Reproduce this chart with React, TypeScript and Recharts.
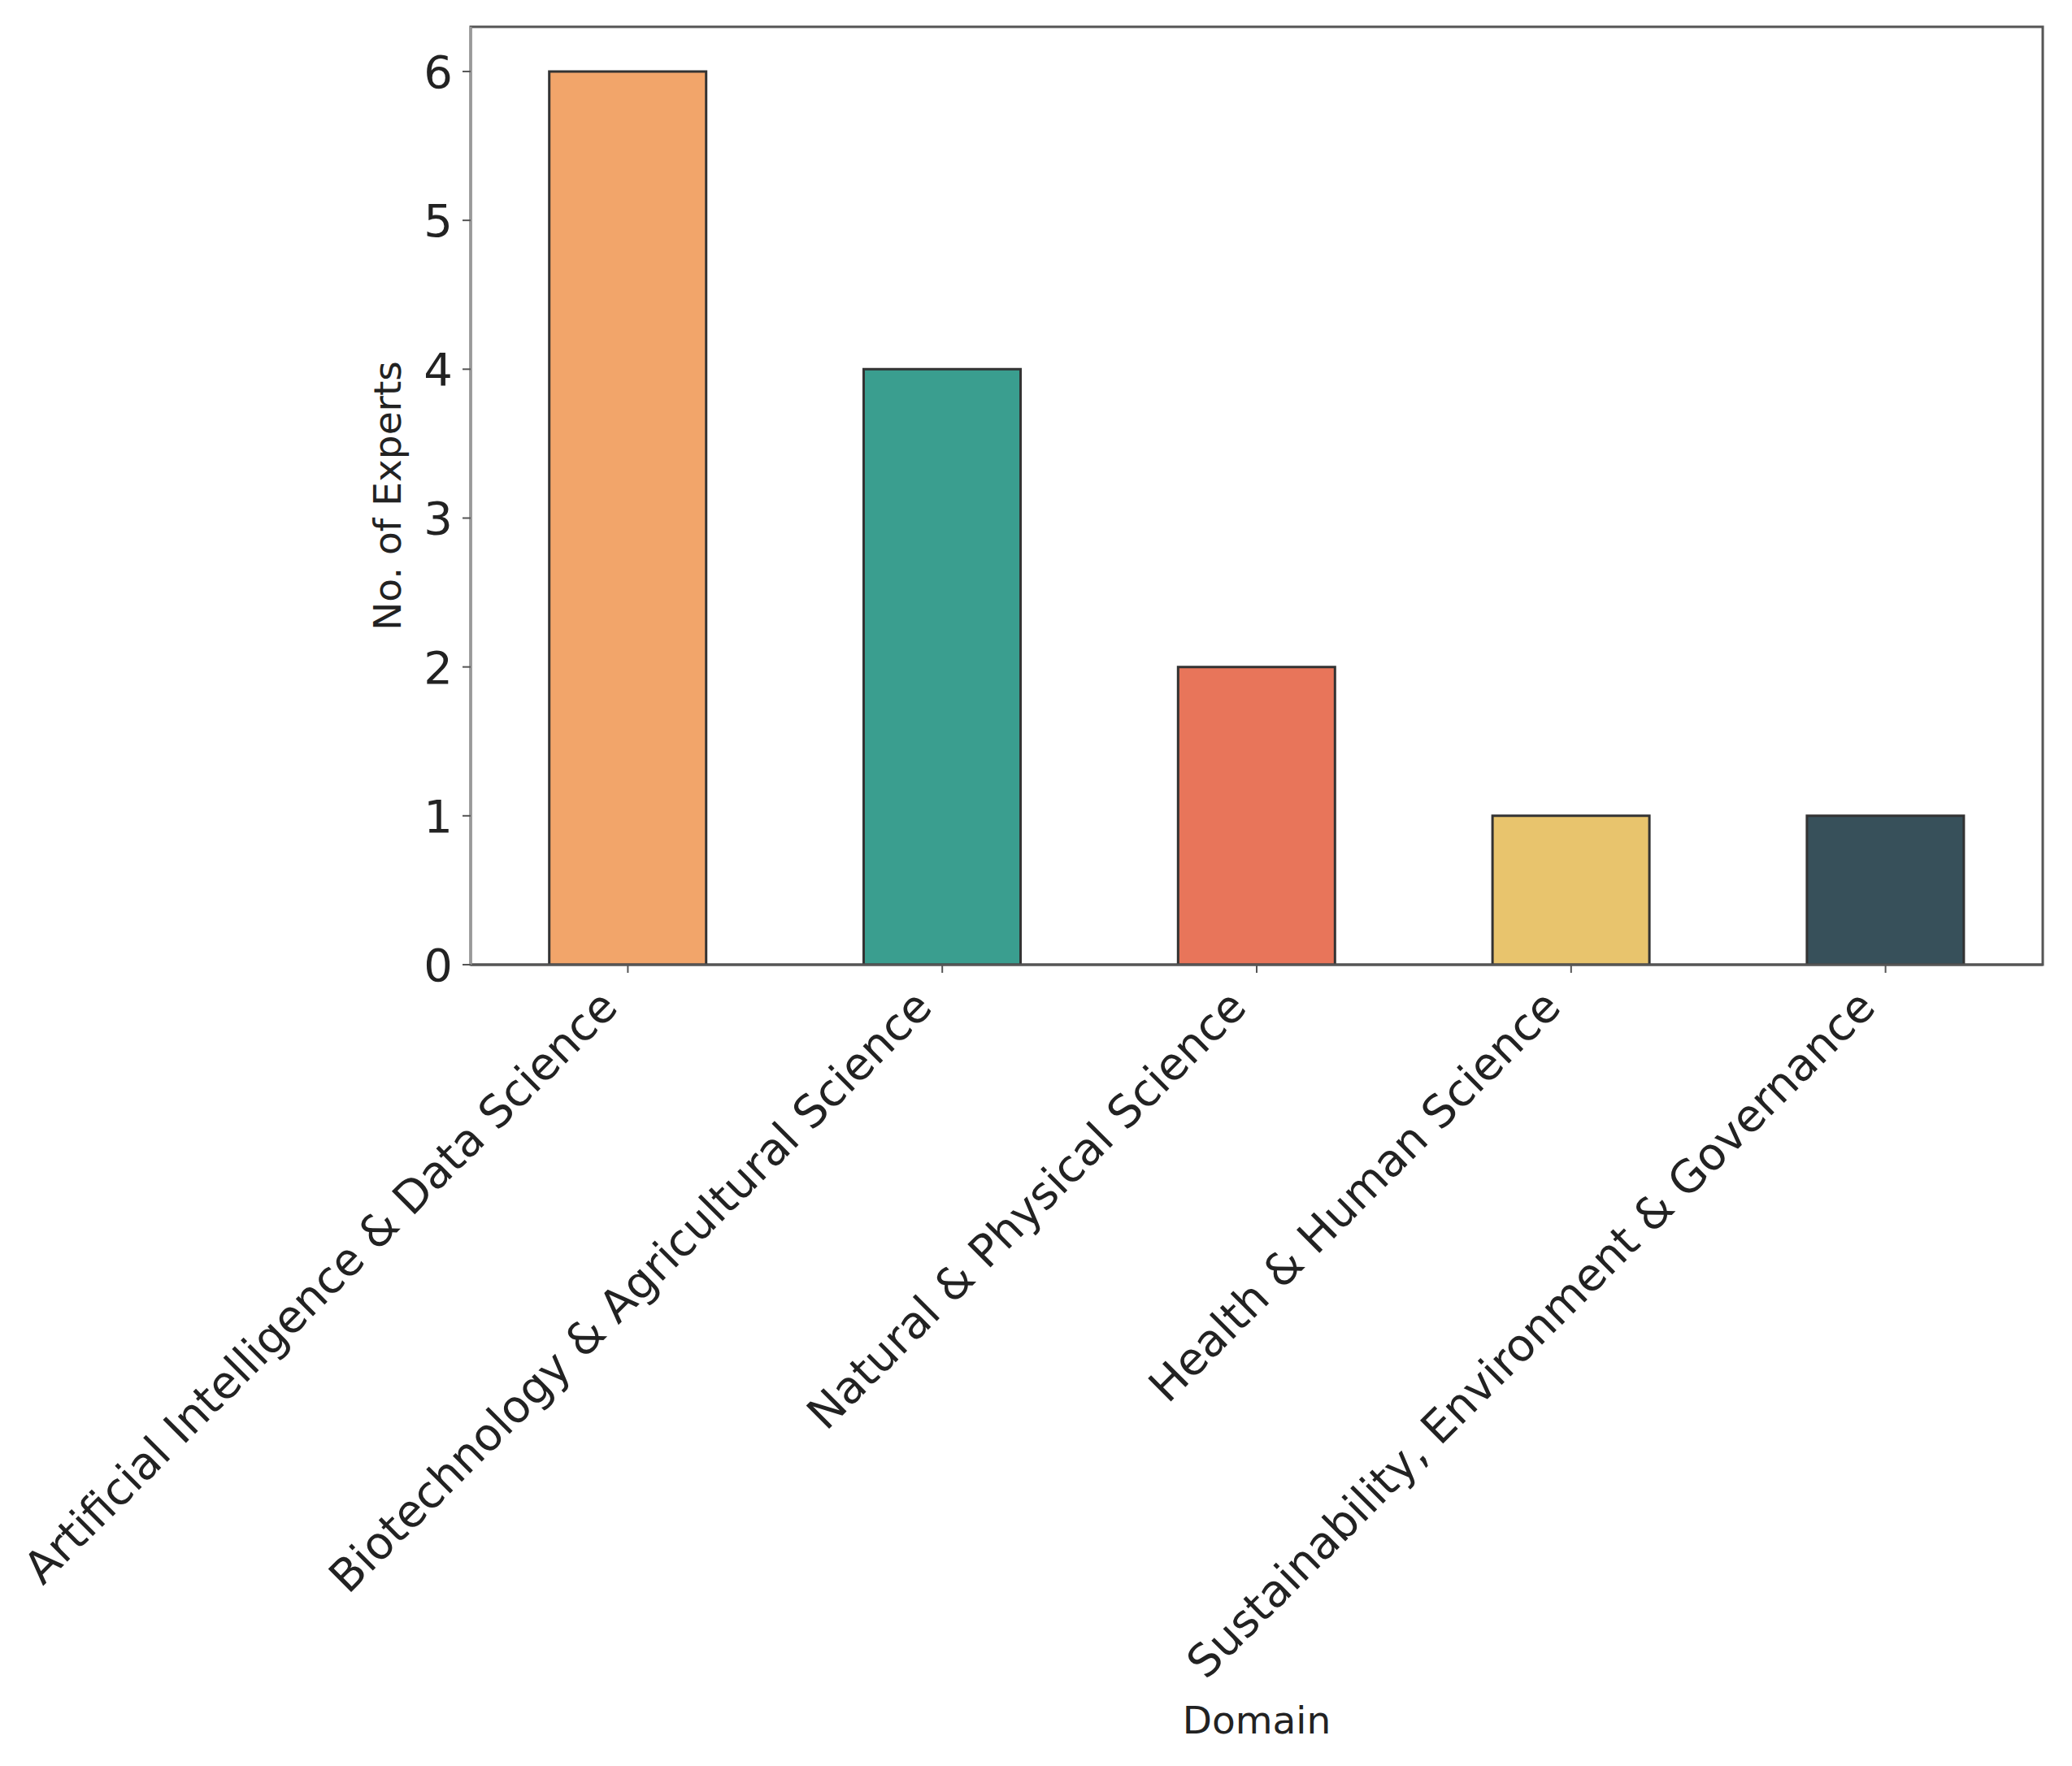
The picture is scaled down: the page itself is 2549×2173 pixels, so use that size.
import React from 'react';
import { BarChart, Bar, Cell, XAxis, YAxis, ReferenceArea } from 'recharts';

const DOMAINS = [
  'Artificial Intelligence & Data Science',
  'Biotechnology & Agricultural Science',
  'Natural & Physical Science',
  'Health & Human Science',
  'Sustainability, Environment & Governance',
];
const EXPERTS = [6, 4, 2, 1, 1];
const BAR_COLORS = ['#F2A56A', '#3A9E8F', '#E8755A', '#E8C46D', '#37505A'];
const Y_TICKS = [0, 1, 2, 3, 4, 5, 6];
const Y_MAX = 6.3;

const FONT = '"DejaVu Sans", Verdana, sans-serif';
const TEXT_COLOR = '#222';
const SPINE = '#555';

const data = DOMAINS.map((domain, i) => ({ domain, experts: EXPERTS[i] }));

function RotatedTick(props: any) {
  const { x, y, payload } = props;
  const ax = x - 10;
  const ay = y + 43;
  return (
    <text
      x={ax}
      y={ay}
      transform={`rotate(-45, ${ax}, ${ay})`}
      textAnchor="end"
      fontSize={55}
      fontFamily={FONT}
      fill={TEXT_COLOR}
    >
      {payload.value}
    </text>
  );
}

function YTitle() {
  return (
    <text
      x={493}
      y={610}
      transform="rotate(-90, 493, 610)"
      textAnchor="middle"
      fontSize={47}
      fontFamily={FONT}
      fill={TEXT_COLOR}
    >
      No. of Experts
    </text>
  );
}

function XTitle() {
  return (
    <text x={1546} y={2133} textAnchor="middle" fontSize={47} fontFamily={FONT} fill={TEXT_COLOR}>
      Domain
    </text>
  );
}

export default function App() {
  return (
    <div style={{ position: 'absolute', left: 0, top: 0, background: '#fff' }}>
      <BarChart
        width={2549}
        height={2173}
        data={data}
        margin={{ top: 33, right: 36, bottom: 0, left: 0 }}
        barCategoryGap="25%"
      >
        <XAxis
          dataKey="domain"
          height={986}
          interval={0}
          axisLine={{ stroke: SPINE, strokeWidth: 3 }}
          tickLine={{ stroke: SPINE, strokeWidth: 2 }}
          tickSize={10}
          tick={<RotatedTick />}
          label={<XTitle />}
        />
        <YAxis
          width={579}
          domain={[0, Y_MAX]}
          ticks={Y_TICKS}
          allowDataOverflow
          axisLine={{ stroke: '#999', strokeWidth: 3 }}
          tickLine={{ stroke: SPINE, strokeWidth: 2 }}
          tickSize={10}
          tickMargin={12}
          tick={{ fontSize: 56, fontFamily: FONT, fill: TEXT_COLOR }}
          label={<YTitle />}
        />
        {/* frame around the plot area (top and right spines) */}
        <ReferenceArea y1={0} y2={Y_MAX} fill="none" fillOpacity={0} stroke={SPINE} strokeWidth={3} />
        <Bar dataKey="experts" stroke="#333" strokeWidth={3} isAnimationActive={false}>
          {data.map((d, i) => (
            <Cell key={d.domain} fill={BAR_COLORS[i]} />
          ))}
        </Bar>
      </BarChart>
    </div>
  );
}
